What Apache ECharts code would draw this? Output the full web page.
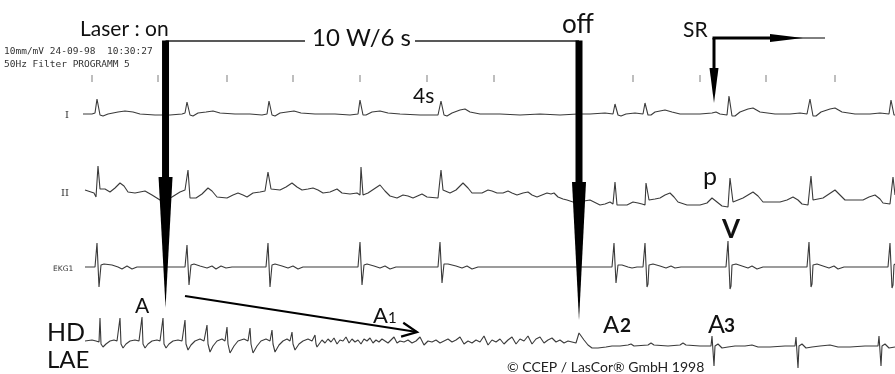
<!DOCTYPE html>
<html>
<head>
<meta charset="utf-8">
<script src="https://cdn.jsdelivr.net/npm/echarts@6/dist/echarts.min.js"></script>
<style>
  html, body { margin: 0; padding: 0; background: #fff; }
  #chart { width: 895px; height: 374px; }
</style>
</head>
<body>
<div id="chart"></div>
<script>
// time in ms from the left edge of the strip, amplitude in mV above each lead's own baseline
const leadI = [
  [1245,0],[1380,0],[1425,0.01],[1455,0.15],[1485,0.14],[1500,-0.01],[1545,-0.02],[1620,0],[1770,0.02],[1875,0.03],[1995,0.02],[2100,0],[2325,-0.01],[2550,-0.01],[2730,0],
  [2775,0.01],[2805,0.12],[2835,0.12],[2850,-0.01],[2895,-0.02],[2970,0.01],[3090,0.02],[3195,0.03],[3300,0.01],[3525,0],[3750,0],[3930,-0.01],
  [4005,0],[4035,0.13],[4065,0.13],[4080,-0.01],[4125,-0.02],[4200,0.01],[4305,0.02],[4410,0.03],[4515,0.01],[4725,0],[5025,0],[5250,-0.01],[5370,0],
  [5400,0.14],[5430,0.13],[5445,-0.01],[5490,-0.01],[5580,0.02],[5700,0.03],[5820,0.01],[6000,0],[6300,-0.01],[6570,-0.01],
  [6600,0],[6615,0.13],[6645,0.12],[6660,-0.01],[6705,-0.02],[6780,0.01],[6900,0.04],[6975,0.05],[7050,0.02],[7200,0],[7500,0],[7800,-0.01],[8100,0],[8400,-0.01],[8670,0],[8850,0],[9075,0.01],[9195,0],
  [9225,0.10],[9255,0.09],[9270,-0.01],[9315,-0.02],[9390,0],[9525,0.01],[9645,0],
  [9675,0.11],[9705,0.10],[9720,-0.01],[9765,-0.01],[9825,0.02],[9975,0.04],[10080,0.02],[10200,0],[10500,0],[10680,0.01],[10740,0.02],[10800,0],[10905,-0.01],
  [10935,0.18],[10965,0.17],[10980,-0.02],[11025,-0.02],[11100,0.02],[11220,0.05],[11295,0.06],[11400,0.02],[11625,0],[11850,0],[12000,0.01],[12105,0],
  [12150,0.15],[12180,0.15],[12195,-0.02],[12240,-0.02],[12315,0.02],[12450,0.05],[12525,0.06],[12630,0.02],[12825,0],[13050,0],[13200,0.01],[13335,0],
  [13365,0.14],[13395,0.14],[13410,-0.01],[13425,-0.01]
];

const leadII = [
  [1275,0.05],[1410,0.02],[1440,-0.02],[1470,0.29],[1500,0.06],[1575,0.06],[1650,0.03],[1725,0.07],[1800,0.12],[1860,0.09],[1920,0.03],[2025,0.02],[2175,0.04],[2280,0],[2400,-0.05],[2475,-0.05],[2580,-0.02],[2700,0.03],
  [2775,0.05],[2805,0.03],[2820,0.25],[2850,-0.03],[2940,-0.03],[3030,0.01],[3120,0.07],[3180,0.04],[3255,-0.02],[3405,-0.03],[3495,0],[3570,0.02],[3645,0],[3705,-0.02],[3795,0.02],[3900,0.03],[3975,0.04],
  [4005,0.02],[4020,0.23],[4065,0.06],[4200,0.05],[4290,0.08],[4380,0.12],[4455,0.08],[4530,0.05],[4620,0.06],[4695,0.07],[4770,0.05],[4845,0.02],[4950,0.03],[5055,0.06],[5130,0.02],[5250,0.01],[5355,0.02],
  [5400,0],[5415,0.28],[5445,0],[5520,0.02],[5610,0.06],[5700,0.10],[5775,0.04],[5850,-0.01],[5955,-0.03],[6045,0],[6120,-0.01],[6195,-0.03],[6330,0.01],[6405,-0.02],[6570,-0.03],
  [6600,-0.01],[6615,0.25],[6645,0.05],[6750,0.02],[6840,0.05],[6945,0.12],[7020,0.07],[7080,0.02],[7230,0.02],[7320,0.05],[7380,0.04],[7455,0.02],[7545,0.02],[7620,0.04],[7680,0.02],[7755,0],[7845,0.02],[7920,0.03],[7980,0],[8055,-0.02],[8130,0],[8205,0.02],[8265,0.01],[8310,0.02],[8370,-0.02],[8445,-0.04],[8505,-0.05],[8595,-0.07],[8670,-0.08],[8760,-0.06],[8850,-0.05],[8940,-0.08],[9000,-0.10],[9075,-0.09],[9150,-0.07],[9195,-0.09],
  [9225,0.13],[9255,-0.10],[9330,-0.10],[9405,-0.10],[9495,-0.07],[9570,-0.08],[9630,-0.09],[9675,-0.10],
  [9690,0.12],[9735,-0.05],[9825,-0.04],[9900,-0.03],[9975,0],[10050,0.02],[10110,-0.02],[10170,-0.07],[10305,-0.10],[10500,-0.10],[10605,-0.08],[10680,-0.03],[10755,-0.07],[10830,-0.11],[10920,-0.12],
  [10950,0.17],[10995,-0.07],[11070,-0.05],[11145,-0.03],[11220,0],[11295,0.03],[11370,-0.01],[11445,-0.07],[11550,-0.07],[11700,-0.07],[11805,-0.05],[11895,-0.02],[11970,-0.05],[12030,-0.09],[12120,-0.10],
  [12165,0.19],[12195,-0.05],[12270,-0.04],[12345,-0.03],[12435,0.01],[12525,0.05],[12600,0],[12675,-0.05],[12825,-0.05],[12945,-0.05],[13035,-0.02],[13125,0],[13200,-0.04],[13245,-0.08],[13350,-0.09],[13380,-0.10],
  [13395,0.18],[13425,0]
];

const ekg1 = [
  [1275,0],[1425,0],[1455,0.24],[1470,0.24],[1485,-0.20],[1500,-0.18],[1515,0.02],[1560,0.03],[1680,0.02],[1770,0],[1830,-0.02],[1905,0.01],[1980,-0.02],[2055,0],[2400,0],
  [2775,0],[2805,0.22],[2820,0.22],[2835,-0.18],[2850,-0.16],[2865,0.02],[2910,0.03],[3000,0.01],[3105,-0.01],[3180,0.01],[3240,-0.02],[3315,0.01],[3390,-0.01],[3480,0],[3990,0],
  [4020,0.24],[4035,0.24],[4050,-0.20],[4065,-0.18],[4080,0.02],[4125,0.03],[4230,0.01],[4320,-0.01],[4395,0.01],[4470,-0.02],[4545,0],[5370,0],
  [5400,0.25],[5415,0.25],[5430,-0.18],[5445,-0.16],[5460,0.02],[5505,0.03],[5610,0.01],[5700,-0.01],[5775,0.01],[5850,-0.02],[5940,0],[6570,0],
  [6600,0.25],[6615,0.25],[6630,-0.16],[6645,-0.14],[6660,0.03],[6720,0.03],[6840,0.01],[6930,-0.01],[7005,0.01],[7080,-0.02],[7170,0],[9180,0],
  [9210,0.24],[9225,0.24],[9240,-0.16],[9255,-0.14],[9270,0.02],[9330,0.02],[9420,0],[9480,-0.01],[9555,0],[9645,0],
  [9675,0.24],[9690,0.24],[9705,-0.20],[9720,-0.17],[9735,0.02],[9795,0.03],[9900,0.01],[9990,-0.01],[10065,0.01],[10125,-0.01],[10215,0],[10890,0],
  [10920,0.26],[10935,0.26],[10950,-0.22],[10965,-0.19],[10980,0.02],[11040,0.03],[11130,0.01],[11220,-0.01],[11280,0.01],[11355,-0.02],[11445,0],[12105,0],
  [12135,0.25],[12150,0.25],[12165,-0.20],[12180,-0.17],[12195,0.02],[12255,0.03],[12345,0.01],[12435,-0.01],[12510,0.01],[12570,-0.02],[12660,0],[13320,0],
  [13350,0.24],[13365,0.24],[13380,-0.21],[13395,-0.18],[13410,0.02],[13425,0.03]
];

const hdLae = [
  [1275,0.01],[1380,0.02],[1440,0.01],[1485,0],
  [1500,0.24],[1515,-0.02],[1545,-0.05],[1590,-0.02],[1650,0.01],[1710,0.02],[1755,0.01],[1785,0],
  [1800,0.24],[1815,-0.02],[1845,-0.06],[1890,-0.02],[1950,0.01],[2025,0.02],[2085,0.01],[2115,0],
  [2130,0.25],[2145,-0.02],[2175,-0.06],[2220,-0.02],[2280,0.01],[2355,0.02],[2400,0.01],[2430,0],
  [2445,0.24],[2460,-0.02],[2490,-0.06],[2535,-0.02],[2595,0.01],[2670,0.02],[2730,0.01],[2760,0],
  [2775,0.22],[2790,-0.02],[2820,-0.08],[2865,-0.03],[2925,0.01],[3000,0.03],[3060,0.01],[3090,0],
  [3105,0.17],[3120,-0.02],[3150,-0.10],[3195,-0.04],[3255,0.01],[3330,0.03],[3375,0.01],[3390,0],
  [3405,0.15],[3420,-0.02],[3450,-0.11],[3510,-0.04],[3570,0.01],[3660,0.03],[3720,0.01],[3735,0],
  [3750,0.14],[3765,-0.02],[3795,-0.11],[3855,-0.04],[3915,0.01],[3990,0.03],[4050,0.01],[4065,0],
  [4080,0.12],[4095,-0.02],[4125,-0.10],[4185,-0.03],[4245,0.01],[4305,0.03],[4350,0.01],[4365,0],
  [4380,0.10],[4395,-0.02],[4425,-0.08],[4485,-0.02],[4545,0.01],[4620,0.03],[4680,0.01],[4710,0],
  [4725,0.07],[4740,-0.02],[4755,-0.05],
  [4770,-0.03],[4830,0.02],[4875,-0.01],[4920,0.03],[4965,0],[5010,0.04],[5055,-0.02],[5100,0.02],[5145,0.01],[5190,0.05],[5235,-0.01],[5280,0.03],[5325,0],[5370,0.02],[5415,-0.02],[5460,0.03],[5505,0.01],[5550,0.04],[5595,-0.01],[5640,0.02],[5685,0],[5730,0.03],[5775,0.01],[5820,-0.01],[5865,0.02],[5910,0.05],[5955,-0.01],[6000,0.01],[6060,0],[6120,0.02],[6180,-0.01],[6240,0.01],[6300,0.05],[6360,-0.03],[6420,0.01],[6480,0],[6540,0.02],[6600,-0.01],[6660,0.01],[6720,0.03],[6780,0],[6840,0.02],[6900,0.05],[6960,-0.02],[7020,0.01],[7080,-0.01],[7140,0.02],[7200,0],[7260,0.06],[7320,-0.03],[7380,0.02],[7440,0],[7500,0.03],[7560,-0.02],[7620,0.02],[7680,0.05],[7740,-0.02],[7800,0.03],[7860,0.01],[7920,0.06],[7980,-0.02],[8040,0.03],[8100,0.05],[8160,-0.01],[8220,0.02],[8280,0.04],[8340,0],[8400,0.02],[8460,-0.01],[8520,0.01],[8580,0],[8640,-0.01],
  [8670,0],[8685,0.09],[8715,0.08],[8760,0.02],[8820,-0.03],[8880,-0.06],[8970,-0.06],[9090,-0.05],[9180,-0.04],[9300,-0.04],[9420,-0.03],[9465,-0.02],[9510,-0.04],[9720,-0.03],[9765,-0.01],[9810,-0.03],[10020,-0.04],[10200,-0.03],[10245,-0.01],[10290,-0.03],[10500,-0.04],
  [10665,-0.04],[10680,0.06],[10695,0.06],[10710,-0.24],[10725,-0.04],[10770,-0.02],[10830,-0.06],[10920,-0.05],[11025,-0.04],[11175,-0.04],[11280,-0.03],[11370,-0.05],[11550,-0.05],[11775,-0.04],
  [11925,-0.04],[11940,0.05],[11955,0.05],[11970,-0.26],[11985,-0.04],[12030,-0.02],[12090,-0.06],[12180,-0.05],[12300,-0.04],[12450,-0.03],[12570,-0.05],[12750,-0.05],[12975,-0.04],
  [13170,-0.04],[13185,0.06],[13200,0.06],[13215,-0.24],[13230,-0.04],[13275,-0.02],[13335,-0.06],[13425,-0.05]
];

// second marks printed above lead I
const timeMarks = [1380, 2370, 3405, 4395, 5400, 6405, 7410, 9495, 10500, 11490, 12525];

// laser on / off and return of sinus rhythm (ms)
const laserOn = 2483;
const laserOff = 8685;
const srOnset = 10710;

// where each lead sits on the strip (stack offset, mV)
const baseline = { leadI: 2.60, leadII: 1.79, ekg1: 1.07, hdLae: 0.32 };
const markLevel = 2.955;

const lift = (pts, b) => pts.map(([t, v]) => [t, +(b + v).toFixed(3)]);

const traceStyle = { color: '#3a3a3a', width: 1.1 };
function trace(name, pts, b) {
  return {
    name, type: 'line', data: lift(pts, b), showSymbol: false, symbol: 'none',
    lineStyle: traceStyle, silent: true, z: 2
  };
}

function drawNotes(params, api) {
  const p = (t, v) => api.coord([t, v]);
  const kids = [];
  const ink = '#000';

  // laser bracket, gap left for the "10 W/6 s" text
  const lvl = 3.33;
  [[laserOn, 4575], [6225, laserOff]].forEach(([t0, t1]) => {
    const a = p(t0, lvl), b = p(t1, lvl);
    kids.push({ type: 'line', shape: { x1: a[0], y1: a[1], x2: b[0], y2: b[1] }, style: { stroke: '#222', lineWidth: 1.3 } });
  });
  [[laserOn, 1.97, 0.67], [laserOff, 1.92, 0.54]].forEach(([t, neck, tip]) => {
    const top = p(t, lvl), n = p(t, neck), e = p(t, tip);
    kids.push({ type: 'rect', shape: { x: top[0] - 3.5, y: top[1] - 0.6, width: 7, height: n[1] - top[1] + 1 }, style: { fill: ink } });
    kids.push({ type: 'polygon', shape: { points: [[n[0] - 7, n[1]], [n[0] + 7, n[1]], [e[0], e[1] + 0.5]] }, style: { fill: ink } });
  });

  // SR corner arrow
  const c = p(srOnset, 3.36), neck = p(srOnset, 3.06), tip = p(srOnset, 2.71);
  const h0 = p(11550, 3.36), h1 = p(12045, 3.36), end = p(12375, 3.36);
  kids.push({ type: 'line', shape: { x1: c[0], y1: c[1], x2: neck[0], y2: neck[1] }, style: { stroke: ink, lineWidth: 3 } });
  kids.push({ type: 'polygon', shape: { points: [[neck[0] - 4.5, neck[1]], [neck[0] + 4.5, neck[1]], [tip[0], tip[1]]] }, style: { fill: ink } });
  kids.push({ type: 'line', shape: { x1: c[0] - 1.5, y1: c[1], x2: h0[0], y2: h0[1] }, style: { stroke: ink, lineWidth: 3 } });
  kids.push({ type: 'polygon', shape: { points: [[h0[0], h0[1] - 4], [h0[0], h0[1] + 4], [h1[0], h1[1]]] }, style: { fill: ink } });
  kids.push({ type: 'line', shape: { x1: h0[0], y1: h0[1], x2: end[0], y2: end[1] }, style: { stroke: ink, lineWidth: 1 } });

  // A -> A1 slanted arrow
  const s = p(2775, 0.78), f = p(6255, 0.42);
  const dx = f[0] - s[0], dy = f[1] - s[1], len = Math.hypot(dx, dy);
  const ux = dx / len, uy = dy / len;
  const back = [f[0] - ux * 15, f[1] - uy * 15];
  kids.push({ type: 'line', shape: { x1: s[0], y1: s[1], x2: f[0], y2: f[1] }, style: { stroke: ink, lineWidth: 2.2 } });
  kids.push({ type: 'polyline', shape: { points: [[back[0] - uy * 7, back[1] + ux * 7], [f[0], f[1]], [back[0] + uy * 7, back[1] - ux * 7]] }, style: { stroke: ink, lineWidth: 2.2, fill: null } });

  return { type: 'group', children: kids };
}

const sans = 'Lato, "Open Sans", sans-serif';
function label(x, y, text, size, opts) {
  const o = opts || {};
  return {
    type: 'text', x, y, z: 20, silent: true,
    style: {
      text, fill: o.fill || '#111', verticalAlign: 'middle', align: 'left',
      font: (o.weight || 'normal') + ' ' + size + 'px ' + (o.family || sans)
    }
  };
}
const mono = '"DejaVu Sans Mono", monospace';

const chart = echarts.init(document.getElementById('chart'), null, { renderer: 'canvas' });
chart.setOption({
  animation: false,
  backgroundColor: '#fff',
  grid: { left: 0, right: 0, top: 0, bottom: 0 },
  xAxis: { type: 'value', min: 0, max: 13425, show: false },
  yAxis: { type: 'value', min: 0, max: 3.74, show: false },
  series: [
    trace('I', leadI, baseline.leadI),
    trace('II', leadII, baseline.leadII),
    trace('EKG1', ekg1, baseline.ekg1),
    trace('HD LAE', hdLae, baseline.hdLae),
    {
      name: 'marks', type: 'scatter', data: timeMarks.map(t => [t, markLevel]),
      symbol: 'rect', symbolSize: [1.2, 7], itemStyle: { color: '#777' }, silent: true
    },
    {
      name: 'notes', type: 'custom', data: [[0, 0]], renderItem: drawNotes, silent: true, z: 10
    }
  ],
  graphic: [
    label(80, 29.5, 'Laser : on', 21),
    label(312, 38.5, '10 W/6 s', 24),
    label(562, 25, 'off', 26),
    label(683, 30.5, 'SR', 21),
    label(413, 96.5, '4s', 21),
    label(703, 176.5, 'p', 25),
    label(722, 230, 'V', 26, { weight: 'bold' }),
    label(135, 306.5, 'A', 21),
    label(47, 332.5, 'HD', 25),
    label(47, 360.5, 'LAE', 24),
    label(373, 316.4, 'A', 22),
    label(388, 318.5, '1', 15),
    label(603, 324.8, 'A', 24),
    label(620, 326.3, '2', 19, { weight: 'bold' }),
    label(708, 324.5, 'A', 25),
    label(724, 326, '3', 19, { weight: 'bold' }),
    label(507, 367.5, '© CCEP / LasCor® GmbH 1998', 14, { fill: '#222' }),
    label(4, 52, '10mm/mV 24-09-98  10:30:27', 9.5, { family: mono, fill: '#333' }),
    label(4, 65, '50Hz Filter PROGRAMM 5', 9.5, { family: mono, fill: '#333' }),
    label(65, 115, 'I', 10, { family: '"DejaVu Serif", serif', fill: '#333' }),
    label(61, 193, 'II', 10, { family: '"DejaVu Serif", serif', fill: '#333' }),
    label(53, 269, 'EKG1', 7.5, { family: '"DejaVu Sans", sans-serif', fill: '#333' })
  ]
});
</script>
</body>
</html>
